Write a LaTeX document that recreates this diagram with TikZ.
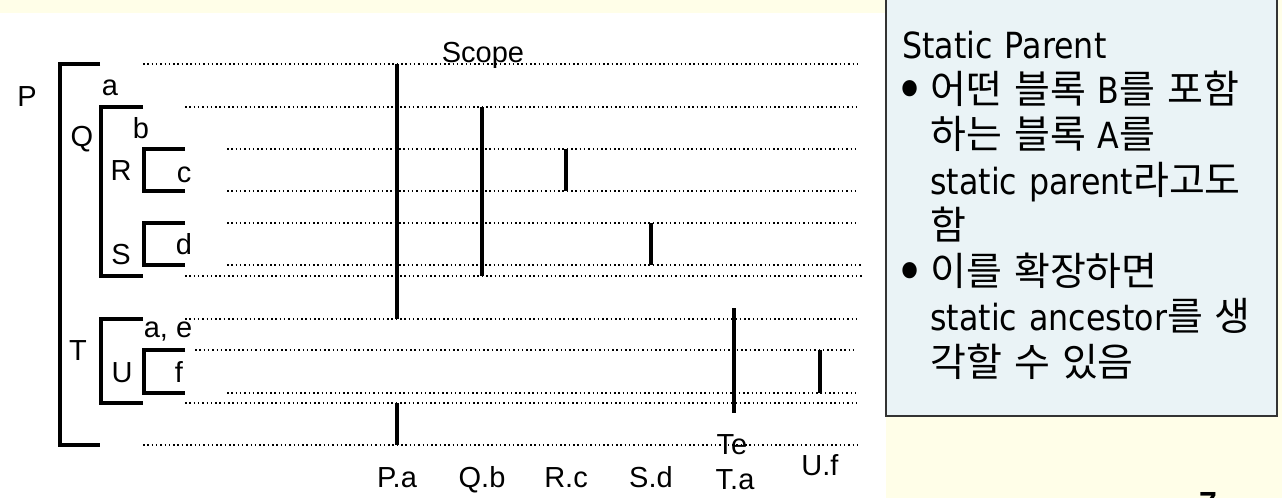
\documentclass[tikz,border=0pt]{standalone}
\usepackage{fontspec}
\setmainfont{Liberation Sans}
\newfontfamily\notefont{DejaVu Sans}[FakeStretch=0.88]
\newfontfamily\krfont{Noto Sans CJK KR}[WordSpace=1.7]
\usetikzlibrary{positioning}
\definecolor{slideyellow}{HTML}{FFFEE8}
\definecolor{notefill}{HTML}{EAF3F6}
\newcommand{\kr}[1]{{\krfont\fontsize{19.5}{22.75}\selectfont #1}}
\newcommand{\bul}{\makebox[14pt][l]{\hspace*{-3.5pt}\raisebox{-3.2pt}{\fontsize{28}{22}\selectfont •}}}
\newcommand{\ind}{\hspace*{14pt}}

\begin{document}
\begin{tikzpicture}[
    x=0.5pt, y=-0.5pt,
    bracket/.style={line width=1.9pt},
    scopeline/.style={line width=1.6pt},
    dotline/.style={black, line width=0.75pt, dash pattern=on 0.75pt off 1.4pt},
    lbl/.style={font=\fontsize{14.5}{17}\selectfont, inner sep=0pt, anchor=base},
    note/.style={font=\notefont\fontsize{18}{22.75}\selectfont, inner sep=0pt, anchor=base west, text width=190pt, align=left}
]
\useasboundingbox (0,0) rectangle (1282,498);
\fill[white] (0,0) rectangle (1282,498);
\fill[slideyellow] (0,0) rectangle (886,13);
\fill[slideyellow] (886,0) rectangle (1282,498);

% block structure
\draw[bracket] (100,64) -| (60,445) -- (100,445);
\draw[bracket] (143,107) -| (101,276) -- (143,276);
\draw[bracket] (185,149) -| (144,191) -- (185,191);
\draw[bracket] (185,223) -| (144,265) -- (185,265);
\draw[bracket] (143,319) -| (101,403) -- (143,403);
\draw[bracket] (185,350) -| (144,393) -- (185,393);

\node[lbl] (p) at (27,106) {P};
\node[lbl] (q) at (82,146) {Q};
\node[lbl] (r) at (121,180) {R};
\node[lbl] (s) at (121,264) {S};
\node[lbl] (t) at (78,360) {T};
\node[lbl] (u) at (122,382) {U};
\node[lbl] (va) at (110,95) {a};
\node[lbl] (vb) at (141,138) {b};
\node[lbl] (vc) at (184,182) {c};
\node[lbl] (vd) at (184,254) {d};
\node[lbl] (vae) at (168,337) {a, e};
\node[lbl] (vf) at (179,382) {f};

% scope rows
\draw[dotline] (143,64) -- (857,64);
\draw[dotline] (185,107) -- (857,107);
\draw[dotline] (227,149) -- (857,149);
\draw[dotline] (227,191) -- (857,191);
\draw[dotline] (227,223) -- (857,223);
\draw[dotline] (227,265) -- (862,265);
\draw[dotline] (185,276) -- (862,276);
\draw[dotline] (185,319) -- (857,319);
\draw[dotline] (195,350) -- (857,350);
\draw[dotline] (227,393) -- (857,393);
\draw[dotline] (185,403) -- (857,403);
\draw[dotline] (143,445) -- (857,445);
\node[lbl] (scope) at (483,62) {Scope};

% scope of each name
\draw[scopeline] (397,64) -- (397,319);
\draw[scopeline] (397,403) -- (397,445);
\draw[scopeline] (482,107) -- (482,276);
\draw[scopeline] (566,149) -- (566,191);
\draw[scopeline] (651,223) -- (651,265);
\draw[scopeline] (734,308) -- (734,413);
\draw[scopeline] (820,350) -- (820,393);

\node[lbl] (pa) at (397,487) {P.a};
\node[lbl] (qb) at (482,487) {Q.b};
\node[lbl] (rc) at (566,487) {R.c};
\node[lbl] (sd) at (651,487) {S.d};
\node[lbl] (ta) at (735,489) {T.a};
\node[lbl] (te) at (732,454) {Te};
\node[lbl] (uf) at (820,475) {U.f};

% note box
\draw[fill=notefill, draw=black!80, line width=1pt] (886,-10) rectangle (1277,416);
\node[note] (txt) at (902,58) {Static Parent\\
\bul\kr{어떤 블록 }B\kr{를 포함}\\
\ind\kr{하는 블록 }A\kr{를}\\
\ind static parent\kr{라고도}\\
\ind\kr{함}\\
\bul\kr{이를 확장하면}\\
\ind static ancestor\kr{를 생}\\
\ind\kr{각할 수 있음}};
\node[font=\bfseries\fontsize{16}{16}\selectfont, inner sep=0pt, anchor=north] (pg) at (1208,492) {7};
\end{tikzpicture}
\end{document}
